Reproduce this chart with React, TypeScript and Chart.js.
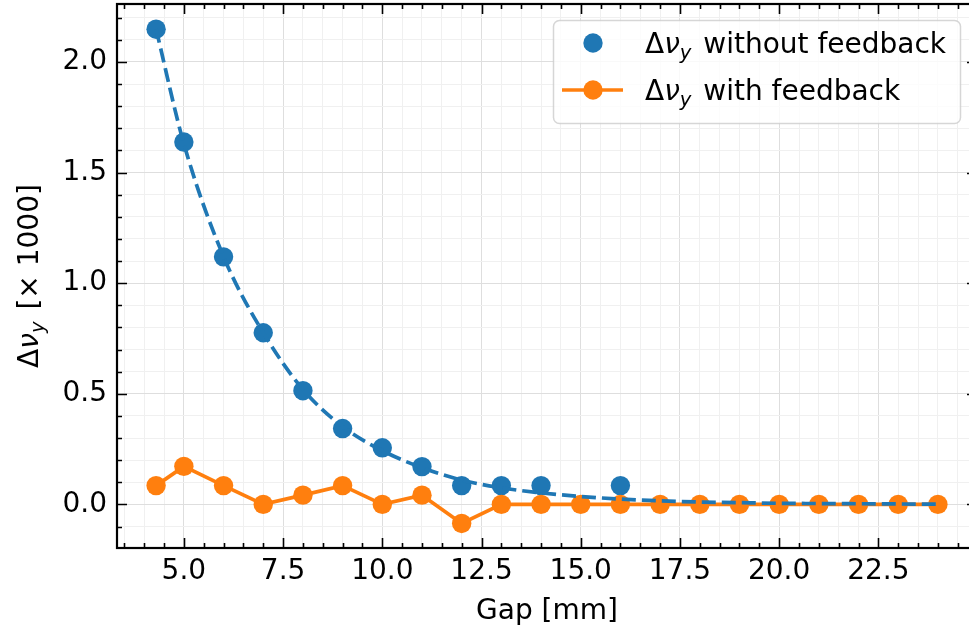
import React, { useEffect, useRef } from "react";
import { Chart, registerables } from "chart.js";

Chart.register(...registerables);

// ---------- data ----------
const gapWithout = [4.3, 5, 6, 7, 8, 9, 10, 11, 12, 13, 14, 16];
const dnuWithout = [2.148, 1.638, 1.119, 0.776, 0.514, 0.343, 0.256, 0.171, 0.085, 0.085, 0.085, 0.085];

const gapWith = [4.3, 5, 6, 7, 8, 9, 10, 11, 12, 13, 14, 15, 16, 17, 18, 19, 20, 21, 22, 23, 24];
const dnuWith = [0.085, 0.172, 0.085, 0, 0.042, 0.085, 0, 0.042, -0.086, 0, 0, 0, 0, 0, 0, 0, 0, 0, 0, 0, 0];

const fitGap = [4.3, 5, 6, 7, 8, 9, 10, 11, 12, 13, 14, 15, 16, 17, 18, 19, 20, 21, 22, 23, 24];
const fitDnu = [2.148, 1.63, 1.12, 0.776, 0.52, 0.352, 0.243, 0.166, 0.11, 0.075, 0.052, 0.036, 0.024, 0.016, 0.011, 0.008, 0.005, 0.004, 0.003, 0.002, 0.001];

const xMajorTicks = [5, 7.5, 10, 12.5, 15, 17.5, 20, 22.5];
const yMajorTicks = [0, 0.5, 1, 1.5, 2];
const xMinorStep = 0.5;
const yMinorStep = 0.1;

const xTitle = "Gap [mm]";
const legendLabelWithout = "without feedback";
const legendLabelWith = "with feedback";

// ---------- style ----------
const FONT = '"DejaVu Sans", sans-serif';
const FS = 28;
const BLUE = "#1f77b4";
const ORANGE = "#ff7f0e";
const CANVAS_W = 990;
const CANVAS_H = 627;
const X_MIN = 3.315;
const X_MAX = 24.985;
const Y_MIN = -0.197;
const Y_MAX = 2.262;
const PLOT_RIGHT = 977;
const PLOT_TOP = 4;
const PLOT_BOTTOM = 548;
const PLOT_LEFT = 117;

function stepTicks(min: number, max: number, step: number) {
  const out: number[] = [];
  for (let i = Math.ceil(min / step - 1e-9); i * step <= max + 1e-9; i++) {
    out.push(Math.round(i * step * 1e6) / 1e6);
  }
  return out;
}
function isMajor(v: number, majors: number[]) {
  return majors.some((m) => Math.abs(m - v) < 1e-6);
}

type Part = { t: string; it?: boolean; sub?: boolean; gap?: number };
function mathParts(rest: string): Part[] {
  return [{ t: "Δ" }, { t: "ν", it: true }, { t: "y", it: true, sub: true, gap: 3 }, { t: " " + rest }];
}
function setFont(ctx: CanvasRenderingContext2D, p: Part, fs: number) {
  const size = p.sub ? fs * 0.7 : fs;
  ctx.font = `${p.it ? "italic " : ""}${size}px ${FONT}`;
}
function measureMath(ctx: CanvasRenderingContext2D, parts: Part[], fs: number) {
  let w = 0;
  for (const p of parts) {
    setFont(ctx, p, fs);
    w += ctx.measureText(p.t).width + (p.gap || 0);
  }
  return w;
}
function drawMath(ctx: CanvasRenderingContext2D, x: number, y: number, parts: Part[], fs: number) {
  let cx = x;
  ctx.textBaseline = "alphabetic";
  ctx.textAlign = "left";
  for (const p of parts) {
    setFont(ctx, p, fs);
    ctx.fillText(p.t, cx, y + (p.sub ? fs * 0.2 : 0));
    cx += ctx.measureText(p.t).width + (p.gap || 0);
  }
}

const framePlugin = {
  id: "frameTicks",
  afterDatasetsDraw(chart: any) {
    const { ctx, chartArea, scales } = chart;
    const { left, right, top, bottom } = chartArea;
    const x = scales.x;
    const y = scales.y;
    ctx.save();
    ctx.strokeStyle = "#000";
    ctx.lineWidth = 1.6;
    ctx.beginPath();
    for (const t of x.ticks) {
      const px = Math.round(x.getPixelForValue(t.value)) + 0.5;
      const len = isMajor(t.value, xMajorTicks) ? 10 : 5;
      ctx.moveTo(px, bottom);
      ctx.lineTo(px, bottom - len);
      ctx.moveTo(px, top);
      ctx.lineTo(px, top + len);
    }
    for (const t of y.ticks) {
      const py = Math.round(y.getPixelForValue(t.value)) + 0.5;
      const len = isMajor(t.value, yMajorTicks) ? 10 : 5;
      ctx.moveTo(left, py);
      ctx.lineTo(left + len, py);
      ctx.moveTo(right, py);
      ctx.lineTo(right - len, py);
    }
    ctx.stroke();
    ctx.lineWidth = 2.2;
    ctx.strokeRect(left, top, right - left, bottom - top);
    ctx.restore();
  },
  afterDraw(chart: any) {
    const { ctx, chartArea } = chart;
    const { left, right, top, bottom } = chartArea;
    ctx.save();
    ctx.fillStyle = "#000";
    // x title
    ctx.font = `${FS}px ${FONT}`;
    ctx.textAlign = "center";
    ctx.textBaseline = "alphabetic";
    ctx.fillText(xTitle, (left + right) / 2, 619);
    // y title
    const yParts = mathParts("[× 1000]");
    ctx.save();
    ctx.translate(38, (top + bottom) / 2);
    ctx.rotate(-Math.PI / 2);
    const w = measureMath(ctx, yParts, FS);
    drawMath(ctx, -w / 2, 0, yParts, FS);
    ctx.restore();

    // legend
    const lx = 553.5, ly = 20.5, lw = 407, lh = 103, r = 6;
    ctx.beginPath();
    ctx.moveTo(lx + r, ly);
    ctx.lineTo(lx + lw - r, ly);
    ctx.arcTo(lx + lw, ly, lx + lw, ly + r, r);
    ctx.lineTo(lx + lw, ly + lh - r);
    ctx.arcTo(lx + lw, ly + lh, lx + lw - r, ly + lh, r);
    ctx.lineTo(lx + r, ly + lh);
    ctx.arcTo(lx, ly + lh, lx, ly + lh - r, r);
    ctx.lineTo(lx, ly + r);
    ctx.arcTo(lx, ly, lx + r, ly, r);
    ctx.closePath();
    ctx.fillStyle = "rgba(255,255,255,0.8)";
    ctx.fill();
    ctx.strokeStyle = "rgba(204,204,204,0.8)";
    ctx.lineWidth = 1.5;
    ctx.stroke();

    // row 1
    ctx.fillStyle = BLUE;
    ctx.beginPath();
    ctx.arc(593, 43, 9.7, 0, Math.PI * 2);
    ctx.fill();
    ctx.fillStyle = "#000";
    drawMath(ctx, 645, 53, mathParts(legendLabelWithout), FS);

    // row 2
    ctx.strokeStyle = ORANGE;
    ctx.lineWidth = 3.7;
    ctx.beginPath();
    ctx.moveTo(562, 90);
    ctx.lineTo(623, 90);
    ctx.stroke();
    ctx.fillStyle = ORANGE;
    ctx.beginPath();
    ctx.arc(593, 90, 9.7, 0, Math.PI * 2);
    ctx.fill();
    ctx.fillStyle = "#000";
    drawMath(ctx, 645, 100, mathParts(legendLabelWith), FS);
    ctx.restore();
  },
};

export default function App() {
  const ref = useRef<HTMLCanvasElement | null>(null);

  useEffect(() => {
    if (!ref.current) return;
    const chart = new Chart(ref.current, {
      type: "line",
      data: {
        datasets: [
          {
            label: "fit",
            data: fitGap.map((x, i) => ({ x, y: fitDnu[i] })),
            borderColor: BLUE,
            borderWidth: 3.7,
            borderDash: [14, 6],
            pointRadius: 0,
            cubicInterpolationMode: "monotone",
            fill: false,
            order: 0,
          },
          {
            label: "with feedback",
            data: gapWith.map((x, i) => ({ x, y: dnuWith[i] })),
            borderColor: ORANGE,
            backgroundColor: ORANGE,
            borderWidth: 3.7,
            pointRadius: 9.7,
            pointBorderWidth: 0,
            pointBackgroundColor: ORANGE,
            tension: 0,
            fill: false,
            order: 1,
          },
          {
            label: "without feedback",
            data: gapWithout.map((x, i) => ({ x, y: dnuWithout[i] })),
            showLine: false,
            borderColor: BLUE,
            backgroundColor: BLUE,
            pointRadius: 9.7,
            pointBorderWidth: 0,
            pointBackgroundColor: BLUE,
            order: 2,
          },
        ],
      },
      options: {
        animation: false,
        responsive: false,
        maintainAspectRatio: false,
        devicePixelRatio: 1,
        layout: {
          autoPadding: false,
          padding: { top: PLOT_TOP, right: CANVAS_W - PLOT_RIGHT, left: 0, bottom: 0 },
        },
        plugins: { legend: { display: false }, tooltip: { enabled: false } },
        scales: {
          x: {
            type: "linear",
            min: X_MIN,
            max: X_MAX,
            afterBuildTicks: (s: any) => {
              s.ticks = stepTicks(X_MIN, X_MAX, xMinorStep).map((v) => ({ value: v }));
            },
            afterFit: (s: any) => {
              s.height = CANVAS_H - PLOT_BOTTOM;
              s.paddingLeft = 0;
              s.paddingRight = 0;
            },
            grid: {
              drawTicks: false,
              lineWidth: 1,
              color: (c: any) => (c.tick && isMajor(c.tick.value, xMajorTicks) ? "#dedede" : "#f0f0f0"),
            },
            border: { display: false },
            ticks: {
              autoSkip: false,
              maxRotation: 0,
              padding: 7,
              color: "#000",
              font: { family: FONT, size: FS },
              callback: (v: any) => (isMajor(Number(v), xMajorTicks) ? Number(v).toFixed(1) : ""),
            },
          },
          y: {
            type: "linear",
            min: Y_MIN,
            max: Y_MAX,
            afterBuildTicks: (s: any) => {
              s.ticks = stepTicks(Y_MIN, Y_MAX, yMinorStep).map((v) => ({ value: v }));
            },
            afterFit: (s: any) => {
              s.width = PLOT_LEFT;
              s.paddingTop = 0;
              s.paddingBottom = 0;
            },
            grid: {
              drawTicks: false,
              lineWidth: 1,
              color: (c: any) => (c.tick && isMajor(c.tick.value, yMajorTicks) ? "#dedede" : "#f0f0f0"),
            },
            border: { display: false },
            ticks: {
              autoSkip: false,
              padding: 10,
              color: "#000",
              font: { family: FONT, size: FS },
              callback: (v: any) => (isMajor(Number(v), yMajorTicks) ? Number(v).toFixed(1) : ""),
            },
          },
        },
      },
      plugins: [framePlugin],
    } as any);
    return () => chart.destroy();
  }, []);

  return (
    <div
      style={{
        position: "fixed",
        left: 0,
        top: 0,
        width: 969,
        height: 627,
        overflow: "hidden",
        background: "#fff",
      }}
    >
      <canvas ref={ref} width={CANVAS_W} height={CANVAS_H} style={{ display: "block", width: CANVAS_W, height: CANVAS_H }} />
    </div>
  );
}
